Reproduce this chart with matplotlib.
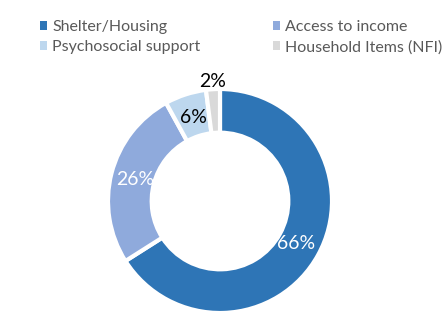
"""
Donut chart of assistance needs
"""
import numpy as np
import matplotlib
matplotlib.use("Agg")
import matplotlib.pyplot as plt
from matplotlib.patches import Patch

categories = ["Shelter/Housing", "Access to income", "Psychosocial support", "Household Items (NFI)"]
values = [66, 26, 6, 2]
colors = ["#2E75B6", "#8FAADC", "#BDD7EE", "#D9D9D9"]
label_colors = ["white", "white", "black", "black"]

plt.rcParams["font.family"] = ["Lato", "DejaVu Sans"]

fig = plt.figure(figsize=(4.45, 3.25), dpi=100)
W, H = 445, 325
cx, cy, r = 220, 201, 112
ax = fig.add_axes([(cx - r) / W, (H - cy - r) / H, 2 * r / W, 2 * r / H])

wedges, texts, autotexts = ax.pie(
    values,
    colors=colors,
    startangle=90,
    counterclock=False,
    radius=1.0,
    wedgeprops=dict(width=0.39, edgecolor="white", linewidth=3),
    autopct="%d%%",
    pctdistance=0.78,
    textprops=dict(fontsize=14),
)
for t, c in zip(autotexts, label_colors):
    t.set_color(c)

# the tiny slice gets its label just outside the ring
x, y = autotexts[3].get_position()
scale = 1.07 / np.hypot(x, y)
autotexts[3].set_position((x * scale, y * scale))

ax.set_xlim(-1, 1)
ax.set_ylim(-1, 1)
ax.set_aspect("equal")
ax.axis("off")

# legend is filled row by row in the reference, matplotlib fills by column
order = [0, 2, 1, 3]
handles = [Patch(facecolor=colors[i], edgecolor="none") for i in order]
fig.legend(
    handles,
    [categories[i] for i in order],
    ncol=2,
    loc="upper left",
    bbox_to_anchor=(26 / W, 1 - 6 / H),
    frameon=False,
    fontsize=11.5,
    handlelength=0.4,
    handleheight=0.5,
    handletextpad=0.35,
    columnspacing=4.55,
    labelspacing=0.35,
    labelcolor="#595959",
)

fig.savefig("out.png", dpi=100)
